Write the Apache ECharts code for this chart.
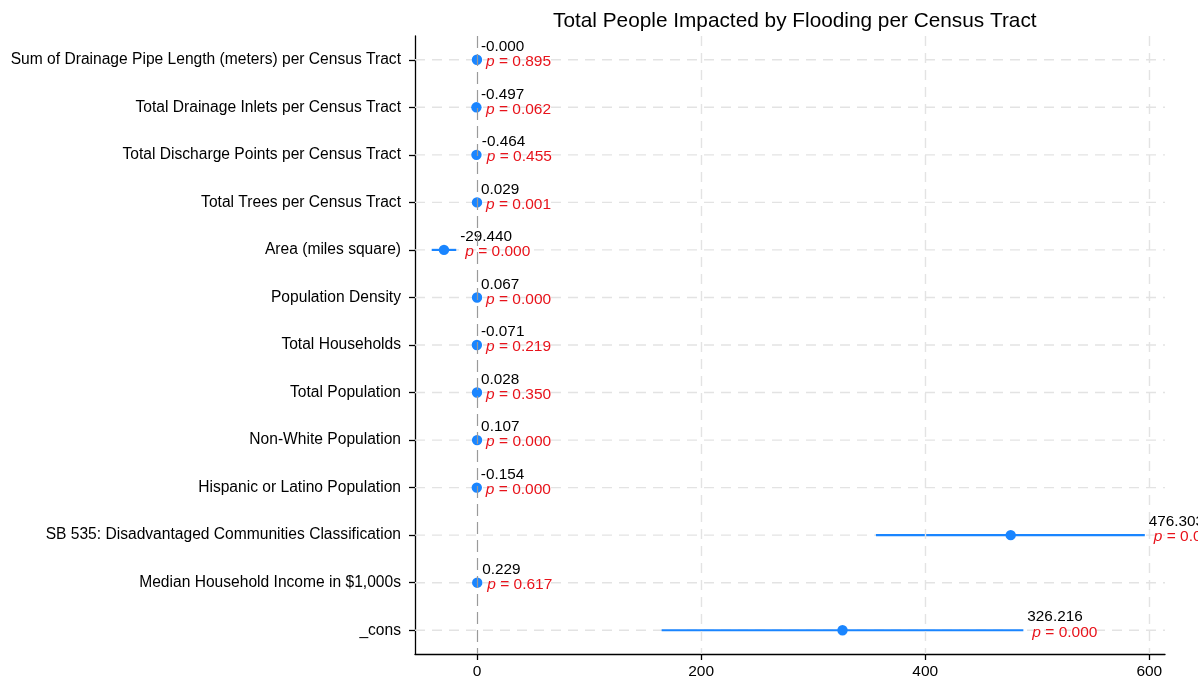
<!DOCTYPE html>
<html>
<head>
<meta charset="utf-8">
<script src="https://cdn.jsdelivr.net/npm/echarts@6/dist/echarts.min.js"></script>
<style>html,body{margin:0;padding:0;background:#fff}#c{width:1198px;height:685px}</style>
</head>
<body>
<div id="c"></div>
<script>
const categories = [
  "Sum of Drainage Pipe Length (meters) per Census Tract",
  "Total Drainage Inlets per Census Tract",
  "Total Discharge Points per Census Tract",
  "Total Trees per Census Tract",
  "Area (miles square)",
  "Population Density",
  "Total Households",
  "Total Population",
  "Non-White Population",
  "Hispanic or Latino Population",
  "SB 535: Disadvantaged Communities Classification",
  "Median Household Income in $1,000s",
  "_cons"
];
const estimates = [-0.0004, -0.497, -0.464, 0.029, -29.440, 0.067, -0.071, 0.028, 0.107, -0.154, 476.303, 0.229, 326.216];
const lowerCI   = [-0.006, -1.02, -1.68, 0.012, -40.4, 0.05, -0.18, -0.03, 0.07, -0.20, 356.0, -0.67, 164.8];
const upperCI   = [0.005, 0.025, 0.75, 0.046, -18.5, 0.08, 0.04, 0.09, 0.14, -0.11, 596.0, 1.13, 487.6];
const pValues   = [0.895, 0.062, 0.455, 0.001, 0.000, 0.000, 0.219, 0.350, 0.000, 0.000, 0.000, 0.617, 0.000];
const xTicks    = [0, 200, 400, 600];

const FONT = "'Liberation Sans', Arial, Helvetica, sans-serif";
const BLUE = "#1a85ff";
const RED = "#e8131b";

const data = estimates.map((e, i) => [e, i, lowerCI[i], upperCI[i], pValues[i]]);

const chart = echarts.init(document.getElementById('c'), null, {renderer: 'canvas'});
chart.setOption({
  animation: false,
  backgroundColor: '#fff',
  title: {
    text: 'Total People Impacted by Flooding per Census Tract',
    left: 548, top: 6,
    textStyle: {fontFamily: FONT, fontSize: 20.8, fontWeight: 'normal', color: '#000'}
  },
  grid: {left: 415, right: 33, top: 36, bottom: 31, containLabel: false},
  xAxis: {
    type: 'value', min: -55.3, max: 614,
    axisLine: {show: true, onZero: false, lineStyle: {color: '#000', width: 1.3}},
    axisTick: {show: true, length: 6, lineStyle: {color: '#000', width: 1.3}, customValues: xTicks},
    axisLabel: {fontFamily: FONT, fontSize: 15.5, color: '#000', margin: 10, customValues: xTicks},
    splitLine: {show: false}
  },
  yAxis: {
    type: 'category', data: categories, inverse: true,
    axisLine: {show: true, onZero: false, lineStyle: {color: '#000', width: 1.3}},
    axisTick: {show: true, length: 6, alignWithLabel: true, lineStyle: {color: '#000', width: 1.3}},
    axisLabel: {fontFamily: FONT, fontSize: 15.6, color: '#000', margin: 14},
    splitLine: {show: false}
  },
  series: [
    {
      type: 'custom', z: 1, silent: true,
      data: data,
      encode: {x: 0, y: 1},
      renderItem: function (params, api) {
        const cs = params.coordSys;
        const p = api.coord([0, api.value(1)]);
        return {
          type: 'line',
          shape: {x1: cs.x, y1: p[1], x2: cs.x + cs.width, y2: p[1]},
          style: {stroke: '#e3e3e3', lineWidth: 1.4, lineDash: [10, 7]}
        };
      },
      markLine: {
        silent: true, symbol: 'none', label: {show: false},
        data: [
          {xAxis: 200, lineStyle: {color: '#e3e3e3', width: 1.4, type: [10, 7]}},
          {xAxis: 400, lineStyle: {color: '#e3e3e3', width: 1.4, type: [10, 7]}},
          {xAxis: 600, lineStyle: {color: '#e3e3e3', width: 1.4, type: [10, 7]}},
          {xAxis: 0, lineStyle: {color: '#9a9a9a', width: 1.2, type: [12, 6]}}
        ]
      }
    },
    {
      type: 'custom', z: 3, silent: true,
      data: data,
      encode: {x: [0, 2, 3], y: 1},
      renderItem: function (params, api) {
        const cat = api.value(1);
        const c = api.coord([api.value(0), cat]);
        const lo = api.coord([api.value(2), cat]);
        const hi = api.coord([api.value(3), cat]);
        const est = api.value(0);
        const pv = api.value(4);
        return {
          type: 'group',
          children: [
            {type: 'line', shape: {x1: lo[0], y1: lo[1], x2: hi[0], y2: hi[1]},
             style: {stroke: BLUE, lineWidth: 2.2}},
            {type: 'circle', shape: {cx: c[0], cy: c[1], r: 5.2}, style: {fill: BLUE}},
            {type: 'text', x: hi[0] + 4, y: c[1] - 13,
             style: {text: est.toFixed(3), fill: '#000', font: '15.3px ' + FONT, verticalAlign: 'middle', align: 'left'}},
            {type: 'text', x: hi[0] + 9, y: c[1] + 2,
             style: {
               text: '{i|p}{n| = ' + pv.toFixed(3) + '}',
               verticalAlign: 'middle', align: 'left',
               rich: {
                 i: {fill: RED, fontStyle: 'italic', fontSize: 15.5, fontFamily: FONT},
                 n: {fill: RED, fontSize: 15.5, fontFamily: FONT}
               }
             }}
          ]
        };
      }
    }
  ]
});
</script>
</body>
</html>
